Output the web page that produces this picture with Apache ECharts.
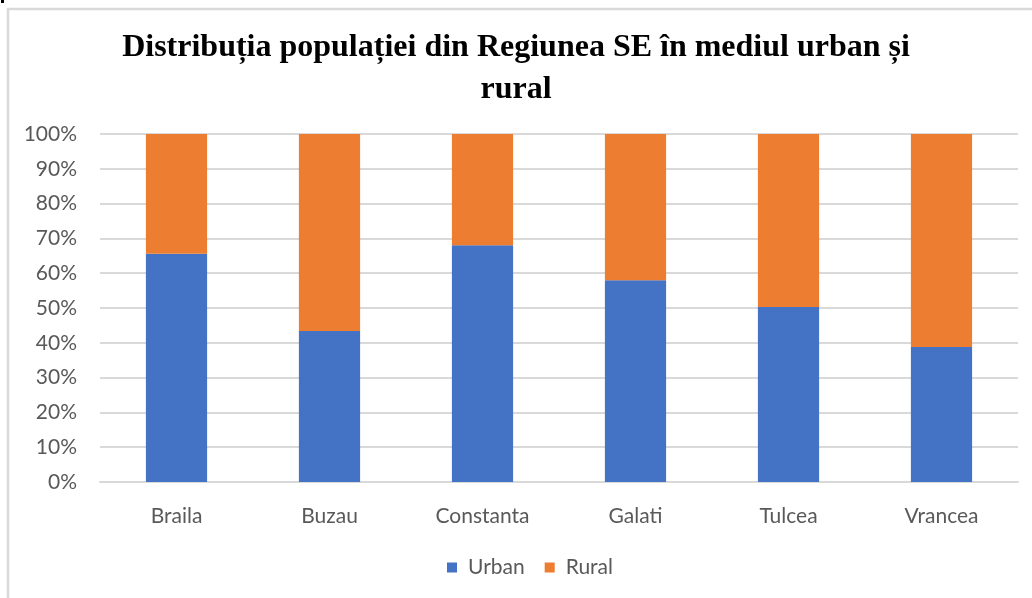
<!DOCTYPE html>
<html>
<head>
<meta charset="utf-8">
<script src="https://cdn.jsdelivr.net/npm/echarts@6/dist/echarts.min.js"></script>
<style>
  html, body { margin: 0; padding: 0; background: #fff; }
  #chart { width: 1032px; height: 598px; }
</style>
</head>
<body>
<div id="chart"></div>
<script>
var judete = ['Braila', 'Buzau', 'Constanta', 'Galati', 'Tulcea', 'Vrancea'];
var urban = [65.6, 43.4, 68.0, 58.0, 50.3, 38.8];   // % populatie urbana
var rural = [34.4, 56.6, 32.0, 42.0, 49.7, 61.2];   // % populatie rurala
var procente = [0, 10, 20, 30, 40, 50, 60, 70, 80, 90, 100];

var myChart = echarts.init(document.getElementById('chart'));
var labelFont = 'Lato, "Open Sans", sans-serif';

var option = {
    animation: false,
    backgroundColor: '#fff',
    title: {
        text: 'Distribuția populației din Regiunea SE în mediul urban și\nrural',
        left: 'center',
        top: 22,
        textStyle: {
            fontFamily: '"Liberation Serif", "Times New Roman", serif',
            fontWeight: 'bold',
            fontSize: 32,
            lineHeight: 42,
            color: '#000'
        }
    },
    legend: {
        data: ['Urban', 'Rural'],
        bottom: 15,
        left: 442,
        itemWidth: 10,
        itemHeight: 10,
        itemGap: 20,
        icon: 'rect',
        selectedMode: false,
        textStyle: { color: '#595959', fontSize: 21, fontFamily: labelFont, padding: [0, 0, 0, 6] }
    },
    grid: {
        left: 100,
        right: 14,
        top: 134,
        bottom: 116,
        containLabel: false
    },
    xAxis: {
        type: 'category',
        data: judete,
        axisLine: { lineStyle: { color: '#d9d9d9', width: 2 } },
        axisTick: { show: false },
        axisLabel: { color: '#595959', fontSize: 21, margin: 24, fontFamily: labelFont }
    },
    yAxis: {
        type: 'value',
        min: 0,
        max: 100,
        interval: 10,
        axisLine: { show: false },
        axisTick: { show: false },
        splitLine: { lineStyle: { color: '#d9d9d9', width: 2 } },
        axisLabel: {
            color: '#595959',
            fontSize: 21,
            margin: 23,
            fontFamily: labelFont,
            formatter: function (v) { return procente.indexOf(v) >= 0 ? v + '%' : ''; }
        }
    },
    series: [
        {
            name: 'Urban',
            type: 'bar',
            stack: 'total',
            barWidth: '40%',
            data: urban,
            itemStyle: { color: '#4472c4' }
        },
        {
            name: 'Rural',
            type: 'bar',
            stack: 'total',
            data: rural,
            itemStyle: { color: '#ed7d31' }
        }
    ],
    graphic: [
        {   // chenarul graficului
            type: 'rect',
            shape: { x: 8, y: 9, width: 1040, height: 620 },
            style: { fill: 'none', stroke: '#d9d9d9', lineWidth: 2.5 },
            z: -1
        },
        {
            type: 'rect',
            shape: { x: 1, y: 0, width: 3, height: 3 },
            style: { fill: '#000' }
        }
    ]
};
myChart.setOption(option);
</script>
</body>
</html>
